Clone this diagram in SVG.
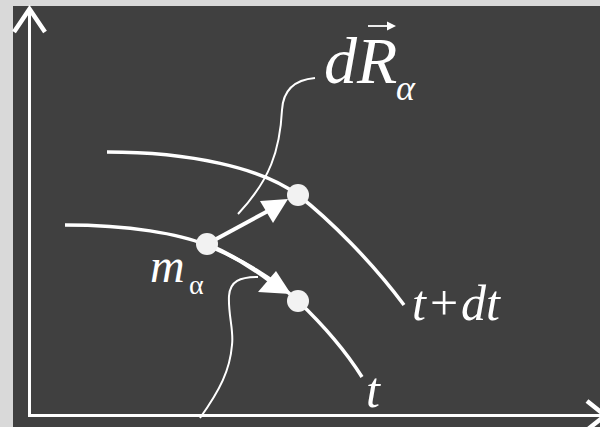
<svg xmlns="http://www.w3.org/2000/svg" width="600" height="427" viewBox="0 0 600 427">
<style>
.axis{stroke:#ffffff;stroke-width:3;fill:none}
.chev{stroke:#ffffff;stroke-width:4.5;fill:none;stroke-linejoin:miter}
.curve{stroke:#ffffff;stroke-width:3.5;fill:none;stroke-linecap:butt}
.thin{stroke:#ffffff;stroke-width:2;fill:none}
.arr{stroke:#ffffff;stroke-width:4;fill:none}
.head{fill:#ffffff}
.pt{fill:#f2f2f2}
.lbl{fill:#ffffff}
</style>
<rect x="0" y="0" width="600" height="427" fill="#d9d9d9"/>
<rect x="13" y="6" width="587" height="421" fill="#404040"/>
<g id="axes">
<line class="axis" x1="29.5" y1="10" x2="29.5" y2="415.5"/>
<line class="axis" x1="28" y1="415.5" x2="602" y2="415.5"/>
<polyline class="chev" points="14,32 29.5,9 45,32"/>
<polyline class="chev" points="587,401 605,415.5 587,430"/>
</g>
<g id="connectors">
<path class="curve" d="M107,152 C190,152 262,168 298,195 C330,220 372,262 404,305"/>
<path class="curve" d="M65,225 C130,225 180,234 206,245 C240,258 275,280 298,301 C320,322 345,350 362,377"/>
<line class="arr" x1="207" y1="244" x2="268" y2="211"/>
<polygon class="head" points="260,201 288,199 273,223"/>
<path class="arr" d="M207,244 C230,254 250,266 270,281"/>
<polygon class="head" points="258,292 276,271 291,294"/>
<path class="thin" d="M315,78 C292,80 283,92 282,110 C280,150 270,180 238,214"/>
<path class="thin" d="M258,277 C240,277 230,281 229,296 C228,315 234,330 232,345 C230,370 220,390 200,418"/>
</g>
<g id="node-m">
<circle class="pt" cx="207" cy="244" r="11"/>
<text class="lbl" x="150" y="282" font-family="'Liberation Serif', 'DejaVu Serif', serif" font-size="48" font-style="italic">m</text>
<text class="lbl" x="189" y="294" font-family="'Liberation Serif', 'DejaVu Serif', serif" font-size="28">α</text>
</g>
<g id="node-t">
<circle class="pt" cx="298" cy="301" r="11"/>
<text class="lbl" x="366" y="407" font-family="'Liberation Serif', 'DejaVu Serif', serif" font-size="50" font-style="italic">t</text>
</g>
<g id="node-tdt">
<circle class="pt" cx="298" cy="195" r="11"/>
<text class="lbl" y="320" font-family="'Liberation Serif', 'DejaVu Serif', serif" font-size="50"><tspan x="412" font-style="italic">t</tspan><tspan x="430">+</tspan><tspan x="461" font-style="italic">dt</tspan></text>
</g>
<g id="label-dR">
<text class="lbl" x="324" y="83" font-family="'Liberation Serif', 'DejaVu Serif', serif" font-size="66" font-style="italic">dR</text>
<text class="lbl" x="396" y="100" font-family="'Liberation Serif', 'DejaVu Serif', serif" font-size="36" font-style="italic">α</text>
<line x1="368" y1="26" x2="390" y2="26" stroke="#ffffff" stroke-width="1.8"/>
<polygon points="396,26 387,21.5 387,30.5" fill="#ffffff"/>
</g>
</svg>
